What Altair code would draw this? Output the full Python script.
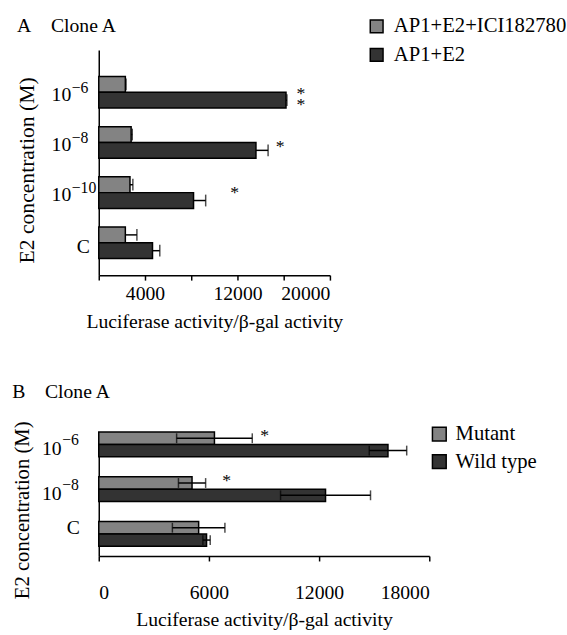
import altair as alt
import pandas as pd

FONT = "Liberation Serif"

# ---------------- Panel A data ----------------
a_categories = ["10⁻⁶", "10⁻⁸", "10⁻¹⁰", "C"]
a_label_base = ["10", "10", "10", "C"]
a_label_exp = ["−6", "−8", "−10", ""]
a_series = ["AP1+E2+ICI182780", "AP1+E2"]
a_ici_mean = [2300, 2800, 2700, 2300]
a_ici_err = [60, 100, 250, 1000]
a_e2_mean = [16200, 13600, 8200, 4650]
a_e2_err = [80, 1050, 1050, 630]
a_star_cat = ["10⁻⁶", "10⁻⁸", "10⁻¹⁰"]
a_star_x = [17500, 15700, 11750]
a_star_text = ["*\n*", "*", "*"]
a_ticks = [0, 4000, 8000, 12000, 16000, 20000]

# ---------------- Panel B data ----------------
b_categories = ["10⁻⁶", "10⁻⁸", "C"]
b_label_base = ["10", "10", "C"]
b_label_exp = ["−6", "−8", ""]
b_series = ["Mutant", "Wild type"]
b_mut_mean = [6300, 5080, 5440]
b_mut_err = [2060, 740, 1430]
b_wt_mean = [15750, 12350, 5870]
b_wt_err = [1020, 2450, 200]
b_star_cat = ["10⁻⁶", "10⁻⁸"]
b_star_x = [9040, 6970]
b_star_text = ["*", "*"]
b_ticks = [0, 6000, 12000, 18000]

bar_colors = ["#838383", "#333333"]
x_title = "Luciferase activity/β-gal activity"
y_title = "E2 concentration (M)"


def long_df(cats, series, means, errs):
    rows = []
    for s, ms, es in zip(series, means, errs):
        for c, m, e in zip(cats, ms, es):
            rows.append({"cat": c, "series": s, "mean": m, "lo": m - e, "hi": m + e})
    return pd.DataFrame(rows)


df_a = long_df(a_categories, a_series, [a_ici_mean, a_e2_mean], [a_ici_err, a_e2_err])
df_b = long_df(b_categories, b_series, [b_mut_mean, b_wt_mean], [b_mut_err, b_wt_err])
stars_a = pd.DataFrame({"cat": a_star_cat, "sx": a_star_x, "txt": a_star_text})
stars_b = pd.DataFrame({"cat": b_star_cat, "sx": b_star_x, "txt": b_star_text})
labels_a = pd.DataFrame({"cat": a_categories, "base": a_label_base, "exp": a_label_exp})
labels_b = pd.DataFrame({"cat": b_categories, "base": b_label_base, "exp": b_label_exp})


def build_panel(df, stars, labels, cats, series, ticks, domain_max, label_expr, width, height,
                yscale, cap_size, legend, title_text, title_xy, ytitle_xy, ytitle_size,
                two_sided, star_dys, lab, x_label_pad):
    xaxis = alt.Axis(title=x_title, values=ticks, labelExpr=label_expr, grid=False,
                     tickSize=5, labelPadding=x_label_pad, titlePadding=8)
    yaxis = alt.Axis(title=y_title, ticks=False, labels=False, grid=False,
                     titleX=ytitle_xy[0], titleY=ytitle_xy[1],
                     titleBaseline="alphabetic", titleFontSize=ytitle_size)
    xs = alt.Scale(domain=[0, domain_max], nice=False, zero=True)

    def X(field):
        return alt.X(f"{field}:Q", scale=xs, axis=xaxis)

    Y = alt.Y("cat:N", sort=cats, scale=yscale, axis=yaxis)
    YO = alt.YOffset("series:N", sort=series, scale=alt.Scale(paddingInner=0, paddingOuter=0))

    bars = alt.Chart(df).mark_bar(stroke="black", strokeWidth=1.5).encode(
        x=X("mean"), y=Y, yOffset=YO,
        color=alt.Color("series:N", sort=series,
                        scale=alt.Scale(domain=series, range=bar_colors), legend=legend),
    )
    start = "lo" if two_sided else "mean"
    rules = alt.Chart(df).mark_rule(color="black", strokeWidth=1.5).encode(
        x=X(start), x2="hi:Q", y=Y, yOffset=YO)
    caps_hi = alt.Chart(df).mark_tick(color="black", thickness=1.5, size=cap_size).encode(
        x=X("hi"), y=Y, yOffset=YO)
    layers = [bars, rules, caps_hi]
    if two_sided:
        caps_lo = alt.Chart(df).mark_tick(color="black", thickness=1.5, size=cap_size).encode(
            x=X("lo"), y=Y, yOffset=YO)
        layers.append(caps_lo)
    for i, dy in enumerate(star_dys):
        sd = stars.iloc[[i]]
        layers.append(
            alt.Chart(sd).mark_text(font=FONT, fontSize=18, color="black", baseline="middle",
                                    align="center", dy=dy, lineBreak="\n", lineHeight=11)
            .encode(x=X("sx"), y=Y, text="txt:N"))
    # category labels: "10" with a raised exponent, and "C"
    pw = labels[labels["base"] == "10"]
    pc = labels[labels["base"] != "10"]
    layers.append(
        alt.Chart(pw).mark_text(font=FONT, fontSize=20, color="black", align="right",
                                baseline="middle", dy=lab["base_dy"])
        .encode(x=alt.value(lab["base_x"]), y=Y, text="base:N"))
    layers.append(
        alt.Chart(pw).mark_text(font=FONT, fontSize=16, color="black", align="left",
                                baseline="middle", dy=lab["exp_dy"])
        .encode(x=alt.value(lab["base_x"] + 0.5), y=Y, text="exp:N"))
    layers.append(
        alt.Chart(pc).mark_text(font=FONT, fontSize=20, color="black", align="right",
                                baseline="middle", dy=lab["c_dy"])
        .encode(x=alt.value(lab["c_x"]), y=Y, text="base:N"))
    tdf = pd.DataFrame({"t": [title_text]})
    layers.append(
        alt.Chart(tdf).mark_text(font=FONT, fontSize=20, color="black", align="left",
                                 baseline="alphabetic")
        .encode(x=alt.value(title_xy[0]), y=alt.value(title_xy[1]), text="t:N"))
    return alt.layer(*layers).properties(width=width, height=height)


panel_a = build_panel(
    df_a, stars_a, labels_a, a_categories, a_series, a_ticks, 20000,
    "datum.value % 8000 == 4000 ? format(datum.value, 'd') : ''",
    235, 229,
    alt.Scale(paddingInner=0.37, paddingOuter=0.43, align=0.615),
    12,
    alt.Legend(title=None, orient="none", legendX=272, legendY=-34.5, symbolType="square",
               symbolSize=169, symbolStrokeColor="black", symbolStrokeWidth=1.5,
               labelFontSize=21, labelOffset=7, rowPadding=7, padding=0, symbolOpacity=1,
               labelLimit=0),
    "A\u2003Clone A", (-83, -18), (-66, 122), 22,
    False, [2, 5, 0],
    {"base_x": -28, "base_dy": 3, "exp_dy": -4.5, "c_x": -9, "c_dy": 4},
    4,
)

panel_b = build_panel(
    df_b, stars_b, labels_b, b_categories, b_series, b_ticks, 18000,
    "format(datum.value, 'd')",
    336, 126,
    alt.Scale(paddingInner=0.45, paddingOuter=0.11, align=0),
    10,
    alt.Legend(title=None, orient="none", legendX=335.7, legendY=-8.5, symbolType="square",
               symbolSize=196, symbolStrokeColor="black", symbolStrokeWidth=1.5,
               labelFontSize=21, labelOffset=6, rowPadding=6, padding=0, symbolOpacity=1,
               labelLimit=0),
    "B\u2003Clone A", (-88, -35), (-71, 79), 21,
    True, [-8, -8],
    {"base_x": -37.7, "base_dy": 5, "exp_dy": -4, "c_x": -19.3, "c_dy": -6},
    22,
)

chart = (
    alt.concat(panel_a, panel_b, columns=1, spacing=51.5, align="none")
    .resolve_scale(x="independent", y="independent", color="independent", yOffset="independent")
    .properties(padding={"left": 12.4, "top": 10.5, "right": 0, "bottom": 0})
    .configure(font=FONT)
    .configure_view(stroke=None)
    .configure_axis(labelFont=FONT, titleFont=FONT, labelFontSize=20, titleFontSize=20,
                    labelColor="black", titleColor="black", domainColor="black",
                    tickColor="black", domainWidth=1.5, tickWidth=1.5,
                    titleFontWeight="normal")
    .configure_legend(labelFont=FONT, labelColor="black")
)

chart.save("out.html", embed_options={"renderer": "svg", "actions": False})
